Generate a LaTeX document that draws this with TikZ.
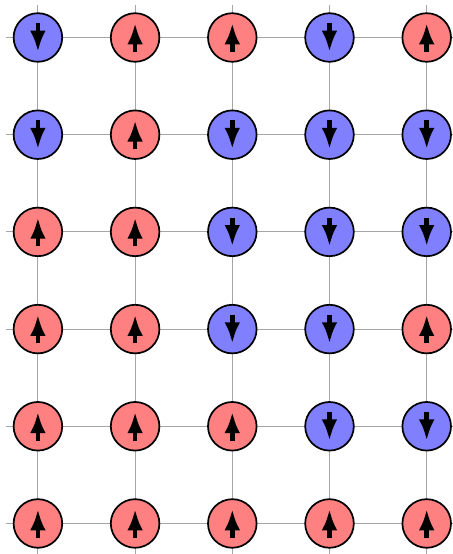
\documentclass[tikz,border=0pt]{standalone}
\usepackage{tikz}
\usetikzlibrary{arrows.meta}

\begin{document}
\begin{tikzpicture}[
    site/.style={circle, draw, line width=0.5pt, minimum size=5mm, inner sep=0pt},
    spinarrow/.style={-{Latex[length=6.2pt,width=4.6pt]}, line width=1.3pt},
    spinu/.style={site, fill=red!50, path picture={
        \draw[spinarrow] ([yshift=-4.2pt]path picture bounding box.center)
            -- ([yshift=4.2pt]path picture bounding box.center);}},
    spind/.style={site, fill=blue!50, path picture={
        \draw[spinarrow] ([yshift=4.2pt]path picture bounding box.center)
            -- ([yshift=-4.2pt]path picture bounding box.center);}},
    lattice/.style={gray!70, line width=0.3pt}
]
    \useasboundingbox (-0.39,-0.314) rectangle (4.27,5.386);

    \foreach \x in {0,...,4}
        \draw[lattice] (\x,-0.33) -- (\x,5.33);
    \foreach \y in {0,...,5}
        \draw[lattice] (-0.33,\y) -- (4.33,\y);

    \foreach \row [count=\r] in {{d,u,u,d,u},{d,u,d,d,d},{u,u,d,d,d},
                                 {u,u,d,d,u},{u,u,u,d,d},{u,u,u,u,u}}
        \foreach \s [count=\c] in \row
            \node[spin\s] (s\r\c) at (\c-1,6-\r) {};
\end{tikzpicture}
\end{document}
